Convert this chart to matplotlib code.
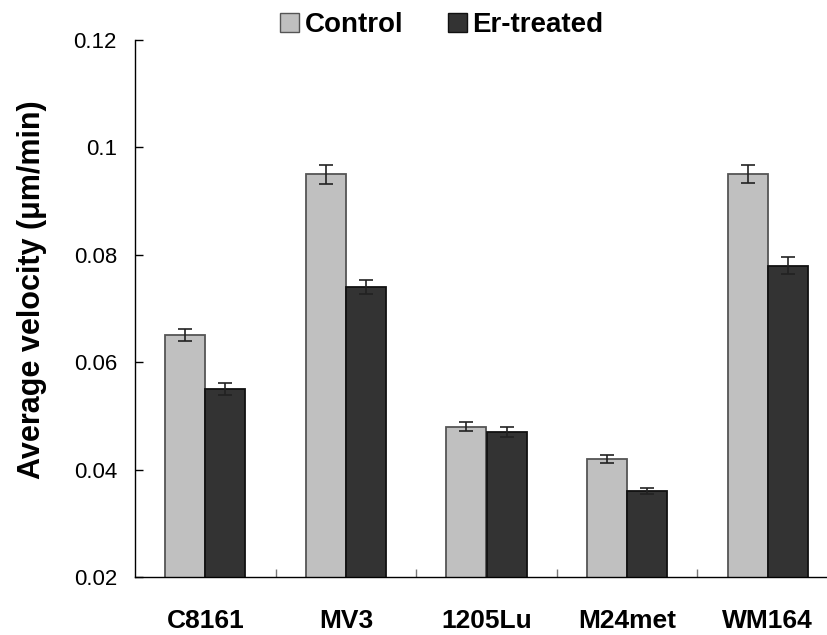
import matplotlib
matplotlib.use("Agg")
import matplotlib.pyplot as plt
import numpy as np
from matplotlib.patches import Patch

plt.rcParams['font.family'] = ['Liberation Sans', 'DejaVu Sans']

categories = ["C8161", "MV3", "1205Lu", "M24met", "WM164"]
control = [0.065, 0.095, 0.048, 0.042, 0.095]
control_err = [0.0011, 0.0018, 0.0008, 0.0007, 0.0017]
treated = [0.055, 0.074, 0.047, 0.036, 0.078]
treated_err = [0.0012, 0.0013, 0.0010, 0.0006, 0.0015]
yticks = [0.02, 0.04, 0.06, 0.08, 0.1, 0.12]
ytick_labels = ["0.02", "0.04", "0.06", "0.08", "0.1", "0.12"]

W, H = 827, 635
fig = plt.figure(figsize=(W / 100, H / 100), dpi=100)
left, right, top, bottom = 135, 838, 40, 577
ax = fig.add_axes([left / W, 1 - bottom / H, (right - left) / W, (bottom - top) / H])

x = np.arange(len(categories))
bw = 0.285
ax.bar(x - bw / 2, control, bw, color='#C0C0C0', edgecolor='#555555', linewidth=1.3, zorder=2)
ax.bar(x + bw / 2, treated, bw, color='#333333', edgecolor='#111111', linewidth=1.3, zorder=2)
ax.errorbar(x - bw / 2, control, yerr=control_err, fmt='none', ecolor='#222222',
            elinewidth=1.2, capsize=5, capthick=1.2, zorder=3)
ax.errorbar(x + bw / 2, treated, yerr=treated_err, fmt='none', ecolor='#222222',
            elinewidth=1.2, capsize=5, capthick=1.2, zorder=3)

ax.set_xlim(-0.5, len(categories) - 0.5)
ax.set_ylim(0.02, 0.12)
ax.set_yticks(yticks)
ax.set_yticklabels(ytick_labels, fontsize=16)
ax.tick_params(axis='y', direction='in', length=6, width=1, pad=13)

ax.set_xticks(x)
ax.set_xticklabels(categories, fontsize=19, fontweight='bold')
ax.tick_params(axis='x', length=0, pad=23)
ax.set_xticks(np.arange(0.5, len(categories) - 0.5, 1.0), minor=True)
ax.tick_params(axis='x', which='minor', direction='in', length=6, width=1, color='#777777')

for s in ['top', 'right']:
    ax.spines[s].set_visible(False)
ax.spines['left'].set_linewidth(1)
ax.spines['bottom'].set_linewidth(1)

fig.text(32 / W, 1 - 290 / H, "Average velocity (μm/min)", fontsize=22, fontweight='bold',
         rotation=90, ha='center', va='center')

handles = [Patch(facecolor='#C0C0C0', edgecolor='#555555', label='Control'),
           Patch(facecolor='#333333', edgecolor='#111111', label='Er-treated')]
fig.legend(handles=handles, loc='center', bbox_to_anchor=(442 / W, 1 - 25 / H), ncol=2,
           frameon=False, prop={'size': 20, 'weight': 'bold'}, handlelength=0.68,
           handleheight=0.68, handletextpad=0.2, columnspacing=1.6,
           borderpad=0, borderaxespad=0)

fig.savefig("out.png", dpi=100)
